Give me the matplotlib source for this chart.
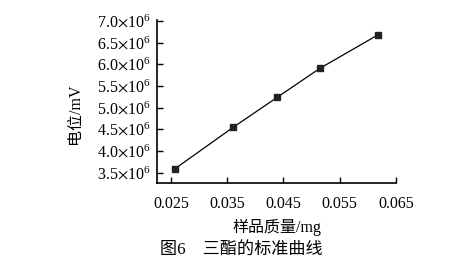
import matplotlib
matplotlib.use('Agg')
import matplotlib.pyplot as plt
from matplotlib.ticker import FuncFormatter

# 标准曲线数据
mass_mg = [0.0257, 0.0361, 0.0439, 0.0515, 0.0618]
potential_mv = [3.59e6, 4.55e6, 5.24e6, 5.91e6, 6.68e6]

x_ticks = [0.025, 0.035, 0.045, 0.055, 0.065]
y_ticks = [3.5e6, 4.0e6, 4.5e6, 5.0e6, 5.5e6, 6.0e6, 6.5e6, 7.0e6]

plt.rcParams['font.family'] = ['Liberation Serif', 'Noto Sans CJK SC']
plt.rcParams['mathtext.fontset'] = 'stix'

fig = plt.figure(figsize=(4.76, 2.68), dpi=100)
ax = fig.add_axes([0.3305, 0.316, 0.5015, 0.609])

ax.plot(mass_mg, potential_mv, color='black', linewidth=0.9,
        marker='s', markersize=4, markerfacecolor='#222222', markeredgecolor='#222222')

ax.set_xlim(0.0226, 0.065)
ax.set_ylim(3.257e6, 7.02e6)
ax.set_xticks(x_ticks)
ax.set_yticks(y_ticks)
ax.xaxis.set_major_formatter(FuncFormatter(lambda v, p: f'{v:.3f}'))
ax.yaxis.set_major_formatter(FuncFormatter(lambda v, p: f'{v/1e6:.1f}' + r'$\times$10$^{\mathregular{6}}$'))
ax.tick_params(direction='in', length=4, width=1, labelsize=11.5)
ax.tick_params(axis='x', pad=9)
ax.tick_params(axis='y', pad=5)

for side in ['top', 'right']:
    ax.spines[side].set_visible(False)
for side in ['left', 'bottom']:
    ax.spines[side].set_linewidth(1.2)

fig.text(0.582, 0.153, '样品质量/mg', ha='center', va='center', fontsize=11.5)
fig.text(0.157, 0.575, '电位/mV', ha='center', va='center', rotation=90, fontsize=11.5)
fig.text(0.508, 0.067, '图6　三酯的标准曲线', ha='center', va='center', fontsize=12.3)

fig.savefig('out.png', dpi=100)
